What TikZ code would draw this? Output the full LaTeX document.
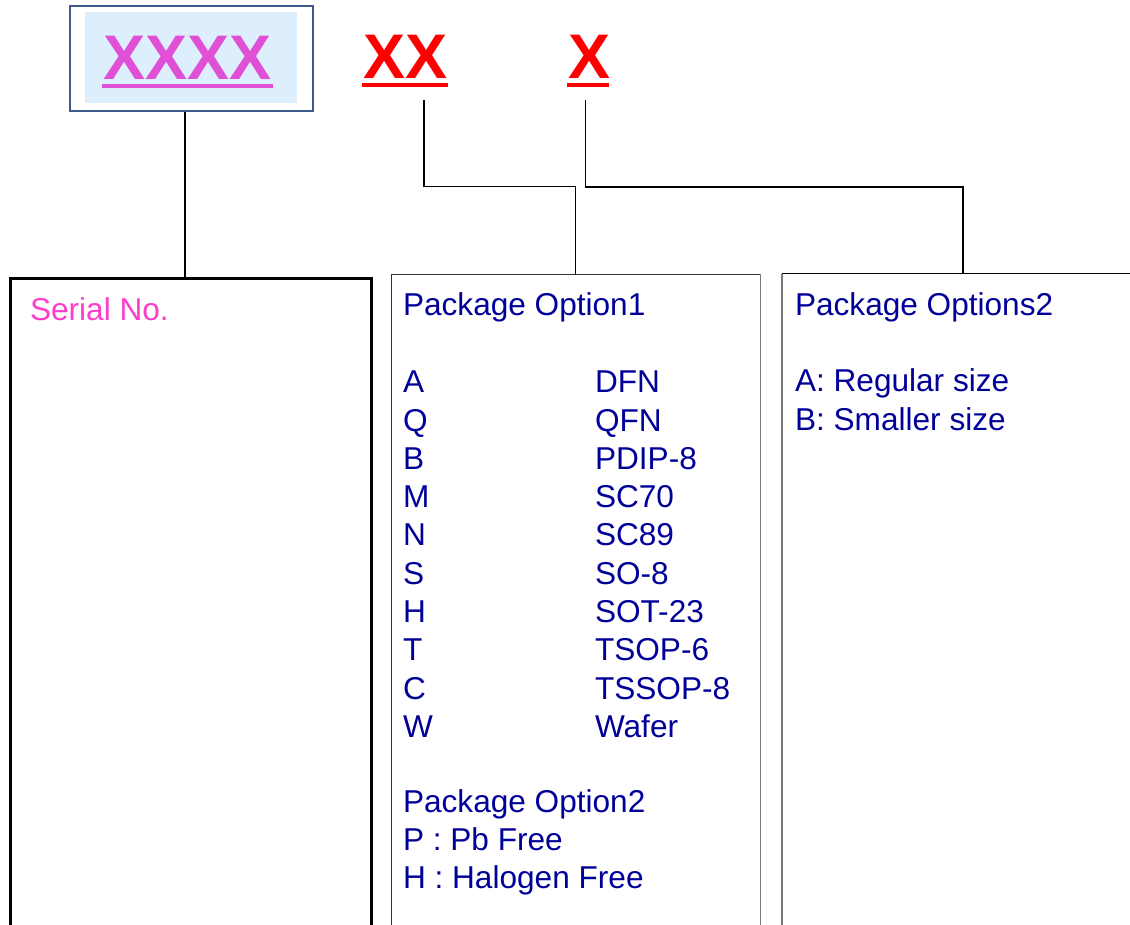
\documentclass[tikz,border=0pt]{standalone}
\usepackage{fontspec}
\setmainfont{Liberation Sans}
\definecolor{navy}{HTML}{000099}
\definecolor{magX}{HTML}{E050D6}
\definecolor{magS}{HTML}{FF3DCC}
\definecolor{boxblue}{HTML}{3C5A8C}
\definecolor{boxfill}{HTML}{DDEEFC}
\definecolor{edgegray}{HTML}{7A7A7A}
\tikzset{
  txt/.style={anchor=base west, inner sep=0pt, outer sep=0pt, text=navy, font=\fontsize{31.6}{38}\selectfont},
  bigx/.style={anchor=base west, inner sep=0pt, outer sep=0pt, font=\fontsize{63}{70}\bfseries\selectfont},
  conn/.style={draw=black, line width=1.6pt},
  uline/.style={line width=4pt},
}
\begin{document}
\begin{tikzpicture}[x=1pt,y=-1pt]
\useasboundingbox (0,0) rectangle (1130,924);
\clip (0,0) rectangle (1130,924);
% top box
\node[draw=boxblue, line width=2pt, fill=white, minimum width=243pt, minimum height=105pt, inner sep=0pt, anchor=north west] (topbox) at (69,5) {};
\fill[boxfill] (85,12) rectangle (297,103);
\node[bigx, text=magX] (xxxx) at (103,79) {XXXX};
\draw[uline, magX] (102,86) -- (273,86);
\node[bigx, text=red] (xx) at (363,78) {XX};
\draw[uline, red] (362,85) -- (448,85);
\node[bigx, text=red] (x) at (568,78) {X};
\draw[uline, red] (567,85) -- (609,85);
% lower boxes
\node[draw=black, line width=3pt, minimum width=361pt, minimum height=700pt, inner sep=0pt, anchor=north west] (serial) at (9,277) {};
\node[draw=black!80, line width=1.2pt, minimum width=369pt, minimum height=700pt, inner sep=0pt, anchor=north west] (opt1) at (390.5,274) {};
\draw[edgegray, line width=1.2pt] (opt1.north east) -- (opt1.south east);
\node[minimum width=400pt, minimum height=700pt, inner sep=0pt, anchor=north west] (opt2) at (781.5,273.5) {};
\draw[black, line width=1.2pt] (opt2.north west) -- (opt2.north east);
\draw[edgegray, line width=2pt] (opt2.north west) -- (opt2.south west);
% connectors
\coordinate (c1) at (185,0);
\draw[conn] (topbox.south -| c1) -- (serial.north -| c1);
\coordinate (xxb) at (424,100);
\coordinate (xb) at (585.5,100);
\draw[conn] (xxb) -- (424,186.5) -- (575.5,186.5) -- (575.5,274);
\draw[conn] (xb) -- (585.5,187) -- (963,187) -- (963,273.5);
% texts
\node[txt, text=magS] (sn) at (30,320) {Serial No.};
\node[txt] (po1) at (403,315) {Package Option1};
\foreach \a/\b [count=\i from 0] in {A/DFN,Q/QFN,B/PDIP-8,M/SC70,N/SC89,S/SO-8,H/SOT-23,T/TSOP-6,C/TSSOP-8,W/Wafer}{
  \node[txt] (l\i) at (403,392.7+38.3*\i) {\a};
  \node[txt] (r\i) at (595,392.7+38.3*\i) {\b};
}
\node[txt] (po2) at (403,812) {Package Option2};
\node[txt] (pb) at (403,850) {P : Pb Free};
\node[txt] (hf) at (403,888.5) {H : Halogen Free};
\node[txt] (pos2) at (795,315) {Package Options2};
\node[txt] (ar) at (795,391.7) {A: Regular size};
\node[txt] (bs) at (795,430) {B: Smaller size};
\end{tikzpicture}
\end{document}
